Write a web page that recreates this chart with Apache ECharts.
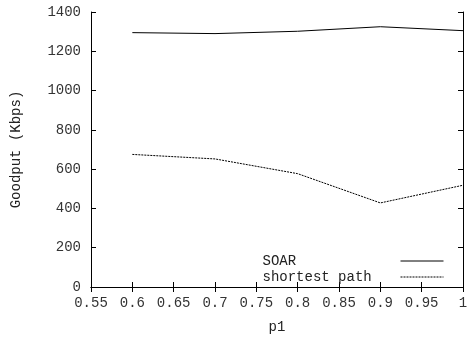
<!DOCTYPE html>
<html>
<head>
<meta charset="utf-8">
<script src="https://cdn.jsdelivr.net/npm/echarts@6/dist/echarts.min.js"></script>
<style>
  html, body { margin: 0; padding: 0; background: #fff; }
  #chart { width: 471px; height: 339px; }
</style>
</head>
<body>
<div id="chart"></div>
<script>
const p1Values = [0.6, 0.7, 0.8, 0.9, 1.0];
const soarGoodput = [1295, 1290, 1302, 1325, 1305];
const shortestGoodput = [675, 652, 577, 428, 518];
const seriesNames = ["SOAR", "shortest path"];

const FONT = "Liberation Mono";
const ink = "#000";
const labelColor = "#333";

const chart = echarts.init(document.getElementById("chart"));

const tickAxisBase = {
  axisLine: { show: true, lineStyle: { color: ink, width: 1 } },
  axisTick: { show: true, inside: true, length: 5, lineStyle: { color: ink } },
  splitLine: { show: false },
};

chart.setOption({
  animation: false,
  grid: { left: 91, right: 8, top: 12, bottom: 51, containLabel: false },
  legend: {
    orient: "vertical",
    align: "right",
    right: 27,
    top: 254,
    padding: 0,
    itemGap: 2,
    itemWidth: 43,
    itemHeight: 12,
    data: seriesNames,
    itemStyle: { opacity: 0 },
    lineStyle: { width: 1 },
    formatter: (name) => `{t|${name}}`,
    textStyle: {
      fontFamily: FONT,
      fontSize: 14,
      color: "#222",
      rich: {
        t: { width: 133, align: "left", fontFamily: FONT, fontSize: 14, color: "#222", lineHeight: 14 },
      },
    },
  },
  xAxis: [
    {
      ...tickAxisBase,
      type: "value",
      min: 0.55,
      max: 1,
      interval: 0.05,
      name: "p1",
      nameLocation: "middle",
      nameGap: 33,
      nameTextStyle: { fontFamily: FONT, fontSize: 14, color: "#222" },
      axisLabel: {
        fontFamily: FONT,
        fontSize: 14,
        color: labelColor,
        margin: 9,
        formatter: (v) => String(+v.toFixed(2)),
      },
    },
    {
      ...tickAxisBase,
      type: "value",
      position: "top",
      min: 0.55,
      max: 1,
      interval: 0.05,
      axisLabel: { show: false },
    },
  ],
  yAxis: [
    {
      ...tickAxisBase,
      type: "value",
      min: 0,
      max: 1400,
      interval: 200,
      name: "Goodput (Kbps)",
      nameLocation: "middle",
      nameGap: 68,
      nameRotate: 90,
      nameTextStyle: { fontFamily: FONT, fontSize: 14, color: "#222" },
      axisLabel: {
        fontFamily: FONT,
        fontSize: 14,
        color: labelColor,
        margin: 10,
        formatter: (v) => String(v),
      },
    },
    {
      ...tickAxisBase,
      type: "value",
      position: "right",
      min: 0,
      max: 1400,
      interval: 200,
      axisLabel: { show: false },
    },
  ],
  series: [
    {
      name: seriesNames[0],
      type: "line",
      symbol: "none",
      data: p1Values.map((x, i) => [x, soarGoodput[i]]),
      lineStyle: { color: ink, width: 1, type: "solid" },
      itemStyle: { color: ink },
    },
    {
      name: seriesNames[1],
      type: "line",
      symbol: "none",
      data: p1Values.map((x, i) => [x, shortestGoodput[i]]),
      lineStyle: { color: ink, width: 1, type: [2, 1] },
      itemStyle: { color: ink },
    },
  ],
});
</script>
</body>
</html>
